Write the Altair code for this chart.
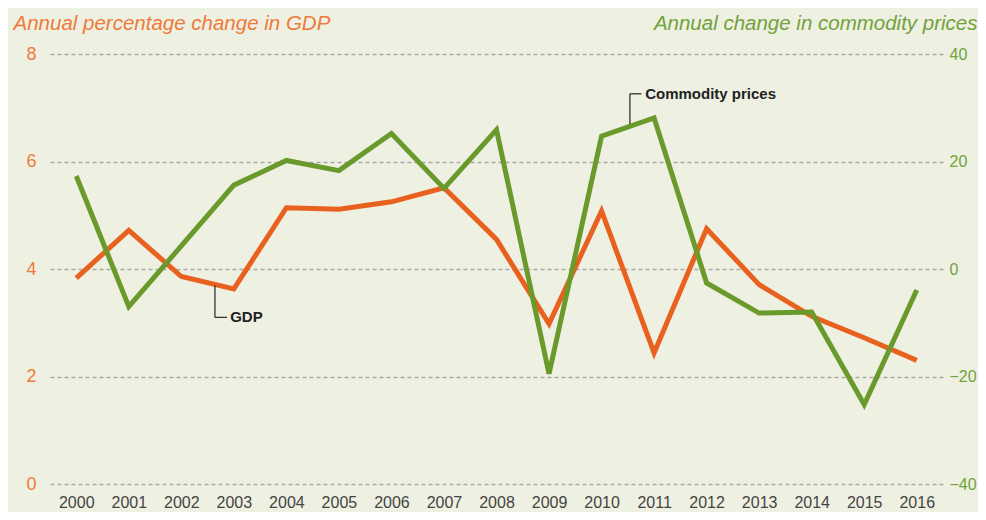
import altair as alt
import pandas as pd

# ---- data ----
years = list(range(2000, 2017))
gdp = [3.83, 4.72, 3.86, 3.63, 5.14, 5.11, 5.25, 5.51, 4.55, 2.98, 5.08, 2.44, 4.75, 3.71, 3.12, 2.72, 2.30]
commodity = [17.3, -7.0, 4.3, 15.6, 20.2, 18.3, 25.2, 15.0, 25.9, -19.5, 24.7, 28.1, -2.6, -8.2, -8.0, -25.2, -3.9]

gdp_ticks = [0, 2, 4, 6, 8]
com_ticks = [-40, -20, 0, 20, 40]

# callout annotations (in data units of the GDP axis)
callout_v_x = [2002.64, 2010.54]
callout_v_y1 = [3.70, 6.70]
callout_v_y2 = [3.10, 7.26]
callout_h_x2 = [2002.87, 2010.76]
label_x = [2002.93, 2010.83]
label_text = ["GDP", "Commodity prices"]

ORANGE_LINE = "#e8611e"
ORANGE_TEXT = "#ee7a3a"
GREEN_LINE = "#6a9a2b"
GREEN_TEXT = "#72a23c"
BG = "#eef0e2"
FONT = "Liberation Sans"

df = pd.DataFrame({"year": years, "gdp": gdp, "commodity": commodity})
ann = pd.DataFrame({
    "vx": callout_v_x, "vy1": callout_v_y1, "vy2": callout_v_y2,
    "hx2": callout_h_x2, "lx": label_x, "text": label_text,
})

xscale = alt.Scale(domain=[1999.5, 2016.5], nice=False, zero=False)


def xaxis():
    return alt.Axis(values=years, format="d", title=None, labelFontSize=16, labelColor="#444444",
                    labelPadding=10, ticks=False, tickSize=0, domain=False, grid=False,
                    labelFlush=False, labelFont=FONT)


def gscale():
    return alt.Scale(domain=[0, 8], nice=False, zero=False)


gdp_line = alt.Chart(df).mark_line(color=ORANGE_LINE, strokeWidth=5, strokeJoin="miter").encode(
    x=alt.X("year:Q", scale=xscale, axis=xaxis()),
    y=alt.Y("gdp:Q", scale=gscale(), axis=alt.Axis(
        values=gdp_ticks, orient="left", title="Annual percentage change in GDP",
        titleAngle=0, titleAlign="left", titleBaseline="alphabetic", titleX=-37, titleY=-25,
        titleFont=FONT, titleFontSize=20.5, titleFontStyle="italic", titleFontWeight="normal",
        titleColor=ORANGE_TEXT, labelColor=ORANGE_TEXT, labelFontSize=18, labelFont=FONT,
        labelPadding=14, ticks=False, tickSize=0, domain=False, grid=True,
        gridColor="#aaaaaa", gridDash=[4, 3], gridWidth=1.5)),
)

com_line = alt.Chart(df).mark_line(color=GREEN_LINE, strokeWidth=5, strokeJoin="miter").encode(
    x=alt.X("year:Q", scale=xscale, axis=xaxis()),
    y=alt.Y("commodity:Q", scale=alt.Scale(domain=[-40, 40], nice=False, zero=False), axis=alt.Axis(
        values=com_ticks, orient="right", title="Annual change in commodity prices",
        titleAngle=0, titleAlign="right", titleBaseline="alphabetic", titleX=34, titleY=-25,
        titleFont=FONT, titleFontSize=20.5, titleFontStyle="italic", titleFontWeight="normal",
        titleColor=GREEN_TEXT, labelColor=GREEN_TEXT, labelFontSize=16, labelFont=FONT,
        labelPadding=6, ticks=False, tickSize=0, domain=False, grid=False)),
)

rule_v = alt.Chart(ann).mark_rule(color="#333333", strokeWidth=1.3).encode(
    x=alt.X("vx:Q", scale=xscale, axis=xaxis()), y=alt.Y("vy1:Q", scale=gscale(), axis=None), y2="vy2:Q")
rule_h = alt.Chart(ann).mark_rule(color="#333333", strokeWidth=1.3).encode(
    x=alt.X("vx:Q", scale=xscale, axis=xaxis()), x2="hx2:Q", y=alt.Y("vy2:Q", scale=gscale(), axis=None))
labels = alt.Chart(ann).mark_text(align="left", baseline="middle", font=FONT, fontSize=15,
                                  fontWeight="bold", color="#222222").encode(
    x=alt.X("lx:Q", scale=xscale, axis=xaxis()), y=alt.Y("vy2:Q", scale=gscale(), axis=None), text="text:N")

chart = alt.layer(gdp_line, com_line, rule_v, rule_h, labels).resolve_scale(y="independent").properties(
    width=893, height=430,
    autosize=alt.AutoSizeParams(type="none"),
    padding={"left": 42, "top": 46, "right": 35, "bottom": 28},
    background=BG,
).configure(font=FONT).configure_view(stroke=None)

chart.save("out.html", embed_options={"renderer": "svg", "actions": False})
